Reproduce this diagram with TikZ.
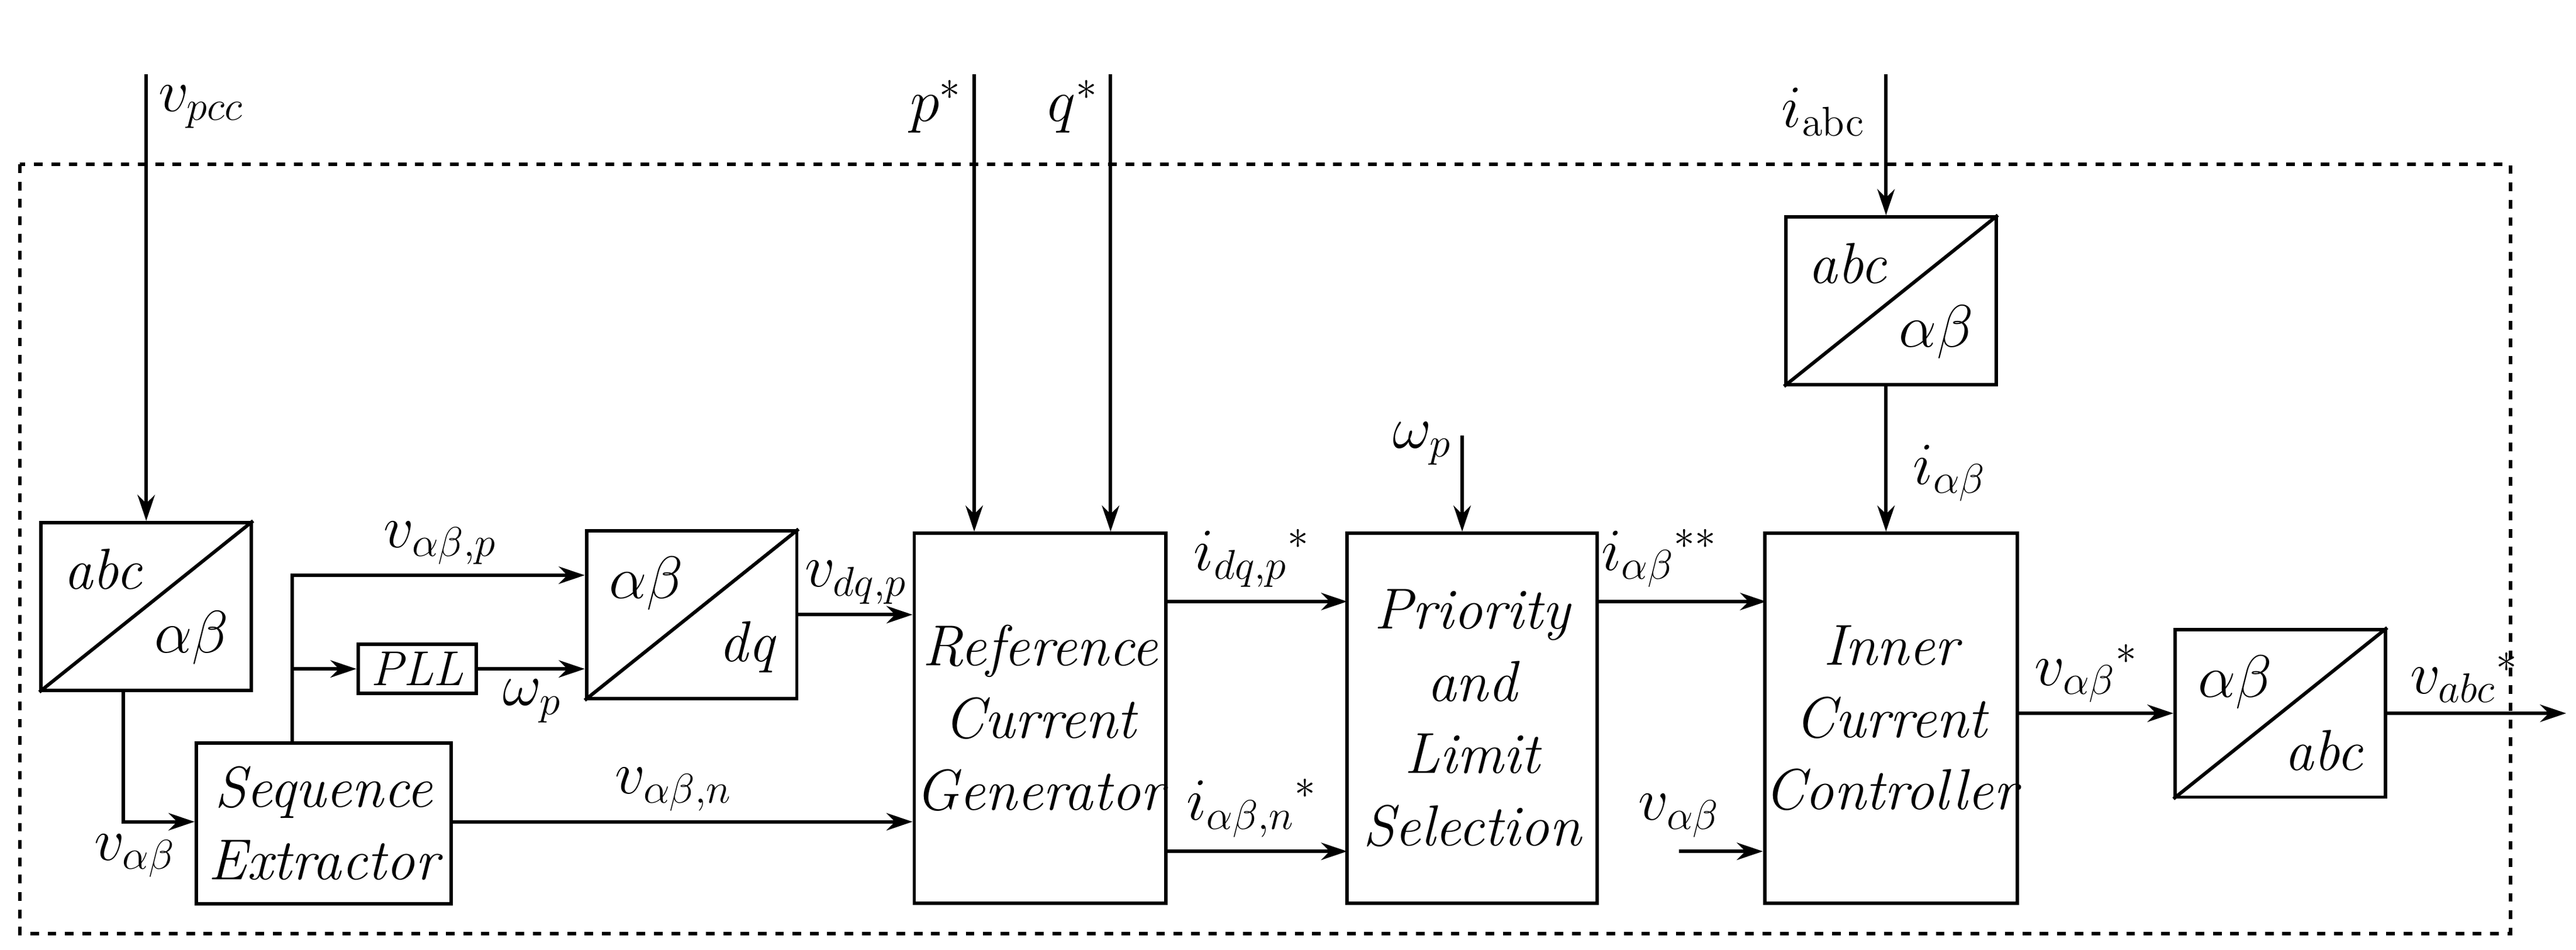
\documentclass[tikz,border=0pt]{standalone}
\usetikzlibrary{arrows.meta}
\begin{document}
\begin{tikzpicture}[x=0.2mm,y=-0.2mm,line width=1.2pt,
  font=\fontsize{20}{25}\selectfont\itshape,
  >={Stealth[length=9pt,width=6pt]},
  block/.style={draw,align=center,inner sep=0pt},
  conv/.style={draw,minimum width=25.6mm,minimum height=20.4mm,inner sep=0pt},
  lbl/.style={inner sep=2pt}]
\useasboundingbox (0,0) rectangle (1568,578);
% frame
\draw[dashed] (12,100) rectangle (1528,568);

% blocks
\node[conv] (abcL) at (89,369) {};
\node[conv] (dq) at (421,374) {};
\node[conv] (abcR) at (1151,183) {};
\node[conv] (out) at (1388,434) {};
\node[block,minimum width=31mm,minimum height=19.6mm] (seq) at (197,501) {Sequence\\Extractor};
\node[block,minimum width=14.4mm,minimum height=6mm,font=\fontsize{17}{20}\selectfont\itshape] (pll) at (254,407) {PLL};
\node[block,minimum width=30.6mm,minimum height=45mm] (rcg) at (633,437) {Reference\\Current\\Generator};
\node[block,minimum width=30.4mm,minimum height=45mm] (pls) at (896,437) {Priority\\and\\Limit\\Selection};
\node[block,minimum width=30.6mm,minimum height=45mm] (icc) at (1151,437) {Inner\\Current\\Controller};

% converter diagonals and labels
\foreach \b/\t/\s in {abcL/abc/$\alpha\beta$, dq/$\alpha\beta$/dq, abcR/abc/$\alpha\beta$, out/$\alpha\beta$/abc}{
  \draw (\b.south west) -- (\b.north east);
  \node[anchor=north west] at ([shift={(8,10)}]\b.north west) {\t};
  \node[anchor=south east] at ([shift={(-8,-10)}]\b.south east) {\s};
}

% inputs
\coordinate (vpcc) at (89,45);
\coordinate (pin) at (593,45);
\coordinate (qin) at (676,45);
\coordinate (iabc) at (1148,45);
\coordinate (wp) at (890,265);
\coordinate (vab) at (1022,518);
\coordinate (vout) at (1562,434);
\draw[->] (vpcc) -- (abcL.north);
\node[lbl,anchor=west] at (92,65) {$v_{pcc}$};
\draw[->] (pin) -- (pin|-rcg.north);
\node[lbl,anchor=east] at (590,65) {$p^{*}$};
\draw[->] (qin) -- (qin|-rcg.north);
\node[lbl,anchor=east] at (673,65) {$q^{*}$};
\draw[->] (iabc) -- (iabc|-abcR.north);
\node[lbl,anchor=east] at (1140,68) {$i_{\mathrm{abc}}$};
\draw[->] (abcR.south-|iabc) -- (iabc|-icc.north);
\node[lbl,anchor=west] at (1160,288) {$i_{\alpha\beta}$};
\draw[->] (wp) -- (wp|-pls.north);
\node[lbl,anchor=east] at (888,270) {$\omega_{p}$};

% left part
\coordinate (c1) at (75,500);
\draw[->] (abcL.south-|c1) -- (c1) -- (c1-|seq.west);
\node[lbl,anchor=north] at (82,503) {$v_{\alpha\beta}$};
\coordinate (t1) at (178,350);
\coordinate (t2) at (178,407);
\draw[->] (seq.north-|t1) -- (t1) -- (t1-|dq.west);
\node[lbl,anchor=south] at (268,348) {$v_{\alpha\beta,p}$};
\draw[->] (t2) -- (pll.west);
\draw[->] (pll.east) -- (pll.east-|dq.west);
\node[lbl,anchor=north] at (324,409) {$\omega_{p}$};
\draw[->] (seq.east|-c1) -- (c1-|rcg.west);
\node[lbl,anchor=south] at (410,498) {$v_{\alpha\beta,n}$};
\draw[->] (dq.east) -- (dq.east-|rcg.west);
\node[lbl,anchor=south] at (521,372) {$v_{dq,p}$};

% middle and right
\draw[->] (710,366) -- (820,366);
\node[lbl,anchor=south] at (762,362) {$i_{dq,p}{}^{*}$};
\draw[->] (710,518) -- (820,518);
\node[lbl,anchor=south] at (762,514) {$i_{\alpha\beta,n}{}^{*}$};
\draw[->] (972,366) -- (1075,366);
\node[lbl,anchor=south] at (1010,362) {$i_{\alpha\beta}{}^{**}$};
\draw[->] (vab) -- (vab-|icc.west);
\node[lbl,anchor=south] at (1022,514) {$v_{\alpha\beta}$};
\draw[->] (icc.east|-out.west) -- (out.west);
\node[lbl,anchor=south] at (1270,432) {$v_{\alpha\beta}{}^{*}$};
\draw[->] (out.east) -- (vout);
\node[lbl,anchor=south] at (1500,432) {$v_{abc}{}^{*}$};
\end{tikzpicture}
\end{document}
